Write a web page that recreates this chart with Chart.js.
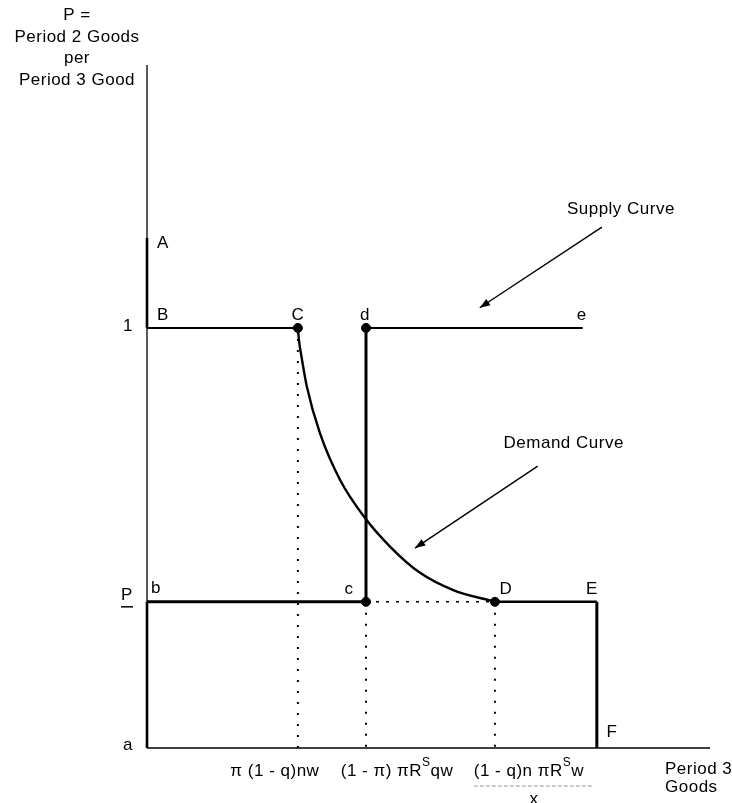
<!DOCTYPE html>
<html>
<head>
<meta charset="utf-8">
<script src="https://cdn.jsdelivr.net/npm/chart.js@4.4.1/dist/chart.umd.min.js"></script>
<style>
  html, body { margin: 0; padding: 0; background: #fff; }
  #wrap { width: 732px; height: 803px; }
</style>
</head>
<body>
<div id="wrap"><canvas id="chart" width="732" height="803"></canvas></div>
<script>
// price levels (Period 2 goods per Period 3 good)
const pAxisTop = 1.626;
const pA = 1.214;          // point A
const pOne = 1;            // B, C, d, e
const pLow = 0.348;        // P underbar: b, c, D, E
// quantities (Period 3 goods)
const qAxisEnd = 10;
const qC = 2.68;           // pi(1-q)nw
const qc = 3.89;           // (1-pi)piR^S qw
const qD = 6.18;           // (1-q)n piR^S w / x
const qe = 7.74;           // end of supply line
const qE = 7.99;           // E / F
// demand curve, C -> D
const demandQ = [2.68, 2.70, 2.74, 2.84, 3.07, 3.43, 3.87, 4.32, 4.85, 5.44, 6.18];
const demandP = [1.0, 0.97, 0.935, 0.86, 0.75, 0.638, 0.548, 0.479, 0.417, 0.376, 0.348];
// arrows: [fromQ, fromP, toQ, toP]
const supplyArrow = [8.08, 1.24, 5.91, 1.048];
const demandArrow = [6.94, 0.671, 4.76, 0.476];

const ink = "#000";
const pts = (xs, ys) => xs.map((x, i) => ({ x: x, y: ys[i] }));

function seg(data, width, dash) {
    return {
        data: data,
        showLine: true,
        borderColor: ink,
        borderWidth: width,
        borderDash: dash || [],
        pointRadius: 0,
        tension: 0,
        clip: false,
    };
}

const datasets = [
    seg([{ x: 0, y: 0 }, { x: 0, y: pAxisTop }], 1.3),
    seg([{ x: 0, y: pA }, { x: 0, y: pOne }], 2.6),
    seg([{ x: 0, y: pLow }, { x: 0, y: 0 }], 2.6),
    seg([{ x: 0, y: 0 }, { x: qAxisEnd, y: 0 }], 1.6),
    seg([{ x: 0, y: pOne }, { x: qC, y: pOne }], 2),
    seg([{ x: qc, y: pOne }, { x: qe, y: pOne }], 2),
    seg([{ x: qc, y: pOne }, { x: qc, y: pLow }], 3),
    seg([{ x: 0, y: pLow }, { x: qc, y: pLow }], 3),
    seg([{ x: qD, y: pLow }, { x: qE, y: pLow }], 2.4),
    seg([{ x: qE, y: pLow }, { x: qE, y: 0 }], 3),
    seg([{ x: qc, y: pLow }, { x: qD, y: pLow }], 1.6, [3, 7]),
    seg([{ x: qC, y: pOne }, { x: qC, y: 0 }], 2, [2, 9]),
    seg([{ x: qc, y: pLow }, { x: qc, y: 0 }], 2, [2, 9]),
    seg([{ x: qD, y: pLow }, { x: qD, y: 0 }], 2, [2, 9]),
    Object.assign(seg(pts(demandQ, demandP), 2.4), { cubicInterpolationMode: "monotone" }),
    Object.assign(seg([{ x: supplyArrow[0], y: supplyArrow[1] }, { x: supplyArrow[2], y: supplyArrow[3] }], 1.4), { arrow: true }),
    Object.assign(seg([{ x: demandArrow[0], y: demandArrow[1] }, { x: demandArrow[2], y: demandArrow[3] }], 1.4), { arrow: true }),
    {
        data: [{ x: qC, y: pOne }, { x: qc, y: pOne }, { x: qc, y: pLow }, { x: qD, y: pLow }],
        showLine: false,
        pointRadius: 4.5,
        pointBackgroundColor: ink,
        pointBorderColor: ink,
        clip: false,
    },
];

// labels: text parts ([text, superscript?]), anchor in data units, pixel offset
const labels = [
    { parts: [["A"]], q: 0, p: pA, dx: 10, dy: 5, align: "left" },
    { parts: [["B"]], q: 0, p: pOne, dx: 10, dy: -13, align: "left" },
    { parts: [["1"]], q: 0, p: pOne, dx: -19, dy: -2, align: "center" },
    { parts: [["C"]], q: qC, p: pOne, dx: 0, dy: -13, align: "center" },
    { parts: [["d"]], q: qc, p: pOne, dx: -1, dy: -13, align: "center" },
    { parts: [["e"]], q: qe, p: pOne, dx: -1, dy: -13, align: "center" },
    { parts: [["b"]], q: 0, p: pLow, dx: 4, dy: -14, align: "left" },
    { parts: [["P"]], q: 0, p: pLow, dx: -20, dy: -7, align: "center", underline: true },
    { parts: [["c"]], q: qc, p: pLow, dx: -17, dy: -13, align: "center" },
    { parts: [["D"]], q: qD, p: pLow, dx: 11, dy: -13, align: "center" },
    { parts: [["E"]], q: qE, p: pLow, dx: -5, dy: -13, align: "center" },
    { parts: [["F"]], q: qE, p: 0, dx: 15, dy: -16, align: "center" },
    { parts: [["a"]], q: 0, p: 0, dx: -19, dy: -3, align: "center" },
    { parts: [["π (1 - q)nw"]], q: qC, p: 0, dx: -23, dy: 23, align: "center" },
    { parts: [["(1 - π) πR"], ["S", true], ["qw"]], q: qc, p: 0, dx: 31, dy: 23, align: "center" },
    { parts: [["(1 - q)n πR"], ["S", true], ["w"]], q: qD, p: 0, dx: 34, dy: 23, align: "center", fraction: "x" },
    { parts: [["Period 3"]], q: qAxisEnd, p: 0, dx: -45, dy: 21, align: "left" },
    { parts: [["Goods"]], q: qAxisEnd, p: 0, dx: -45, dy: 39, align: "left" },
    { parts: [["Supply Curve"]], q: supplyArrow[0], p: supplyArrow[1], dx: 19, dy: -18, align: "center" },
    { parts: [["Demand Curve"]], q: demandArrow[0], p: demandArrow[1], dx: 26, dy: -23, align: "center" },
];
const axisTitle = ["P =", "Period 2 Goods", "per", "Period 3 Good"];

const baseFont = "17px 'Liberation Sans', Arial, sans-serif";
const supFont = "12px 'Liberation Sans', Arial, sans-serif";

function drawParts(ctx, parts, x, y, align) {
    ctx.letterSpacing = "0.5px";
    let w = 0;
    parts.forEach((pt) => {
        ctx.font = pt[1] ? supFont : baseFont;
        w += ctx.measureText(pt[0]).width;
    });
    let cx = align === "center" ? x - w / 2 : x;
    ctx.textAlign = "left";
    parts.forEach((pt) => {
        ctx.font = pt[1] ? supFont : baseFont;
        ctx.fillText(pt[0], cx, pt[1] ? y - 8 : y);
        cx += ctx.measureText(pt[0]).width;
    });
    return w;
}

const annotate = {
    id: "annotate",
    afterDatasetsDraw(chart) {
        const ctx = chart.ctx;
        const xs = chart.scales.x, ys = chart.scales.y;
        ctx.save();
        ctx.fillStyle = ink;
        ctx.strokeStyle = ink;
        // arrowheads
        chart.data.datasets.forEach((ds) => {
            if (!ds.arrow) return;
            const a = ds.data[0], b = ds.data[1];
            const x1 = xs.getPixelForValue(a.x), y1 = ys.getPixelForValue(a.y);
            const x2 = xs.getPixelForValue(b.x), y2 = ys.getPixelForValue(b.y);
            const ang = Math.atan2(y2 - y1, x2 - x1);
            ctx.beginPath();
            ctx.moveTo(x2, y2);
            ctx.lineTo(x2 - 11 * Math.cos(ang - 0.35), y2 - 11 * Math.sin(ang - 0.35));
            ctx.lineTo(x2 - 11 * Math.cos(ang + 0.35), y2 - 11 * Math.sin(ang + 0.35));
            ctx.closePath();
            ctx.fill();
        });
        ctx.textBaseline = "middle";
        labels.forEach((l) => {
            const x = xs.getPixelForValue(l.q) + l.dx;
            const y = ys.getPixelForValue(l.p) + l.dy;
            const w = drawParts(ctx, l.parts, x, y, l.align);
            if (l.underline) {
                ctx.lineWidth = 1.5;
                ctx.beginPath();
                ctx.moveTo(x - 6, y + 12);
                ctx.lineTo(x + 6, y + 12);
                ctx.stroke();
            }
            if (l.fraction) {
                ctx.save();
                ctx.strokeStyle = "#999";
                ctx.lineWidth = 1;
                ctx.setLineDash([4, 2]);
                ctx.beginPath();
                ctx.moveTo(x - w / 2, y + 15);
                ctx.lineTo(x + w / 2 + 8, y + 15);
                ctx.stroke();
                ctx.restore();
                drawParts(ctx, [[l.fraction]], x + 5, y + 28, "center");
            }
        });
        // vertical axis title
        const tx = chart.chartArea.left - 70;
        const tops = [15, 37, 58, 80];
        axisTitle.forEach((t, i) => drawParts(ctx, [[t]], tx, tops[i], "center"));
        ctx.restore();
    },
};

new Chart(document.getElementById("chart"), {
    type: "scatter",
    data: { datasets: datasets },
    options: {
        responsive: false,
        animation: false,
        layout: { padding: { left: 147, right: 22, top: 65, bottom: 55 } },
        plugins: { legend: { display: false }, tooltip: { enabled: false } },
        scales: {
            x: { type: "linear", min: 0, max: qAxisEnd, display: false },
            y: { type: "linear", min: 0, max: pAxisTop, display: false },
        },
    },
    plugins: [annotate],
});
</script>
</body>
</html>
